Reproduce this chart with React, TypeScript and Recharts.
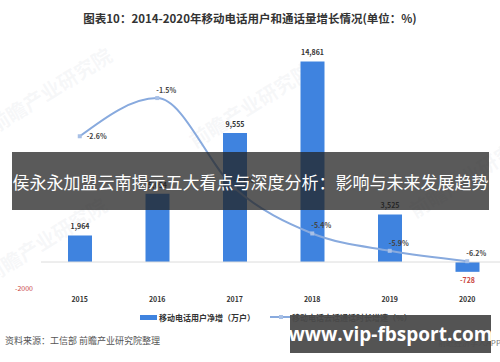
import React from 'react';
import { ComposedChart, Bar, Line, XAxis, YAxis, ReferenceLine, LabelList } from 'recharts';

const categories = ['2015', '2016', '2017', '2018', '2019', '2020'];
const netAdds = [1964, 5054, 9555, 14861, 3525, -728];
const growth = [-2.6, -1.5, -4.1, -5.4, -5.9, -6.2];
const leftTicks = [-2000];

const data = categories.map((year, i) => ({ year, net: netAdds[i], growth: growth[i] }));

const FONT = '"Noto Sans CJK SC", "Noto Sans", sans-serif';
const BAR = '#3f83df';
const LINE = '#88aade';

const BarLabel = (props: any) => {
  const { x, y, width, height, value } = props;
  const cx = x + width / 2;
  const neg = value < 0;
  const top = Math.min(y, y + height);
  const bottom = Math.max(y, y + height);
  const ty = neg ? bottom + 11 : top - 6;
  return (
    <text x={cx} y={ty} textAnchor="middle" fontSize={7} fontWeight="bold" fill={neg ? '#c9463d' : '#333'} fontFamily={FONT}>
      {value.toLocaleString('en-US')}
    </text>
  );
};

const LineLabel = (props: any) => {
  const { x, y, value, index } = props;
  const first = index === 0;
  const tx = first ? x + 7 : x + 9;
  const ty = first ? y + 2.5 : y - 5;
  return (
    <text x={tx} y={ty} textAnchor={first ? 'start' : 'middle'} fontSize={7} fontWeight="bold" fill="#444" fontFamily={FONT}>
      {value.toFixed(1)}%
    </text>
  );
};

const SquareDot = (props: any) => {
  const { cx, cy } = props;
  return <rect x={cx - 2} y={cy - 2} width={4} height={4} fill="#a8c0e6" />;
};

const Watermark = ({ left, top }: { left: number; top: number }) => (
  <div
    style={{
      position: 'absolute',
      left,
      top,
      transform: 'rotate(-32deg)',
      fontSize: 20,
      fontWeight: 'bold',
      color: 'rgba(200,205,215,0.16)',
      fontFamily: FONT,
      whiteSpace: 'nowrap',
      pointerEvents: 'none',
    }}
  >
    前瞻产业研究院
  </div>
);

export default function App() {
  return (
    <div
      style={{
        position: 'fixed',
        left: 0,
        top: 0,
        width: 500,
        height: 362,
        overflow: 'hidden',
        background: '#fff',
        fontFamily: FONT,
      }}
    >
      <div
        style={{
          position: 'absolute',
          top: 8,
          left: 0,
          width: 500,
          textAlign: 'center',
          fontSize: 11.5,
          fontWeight: 'bold',
          color: '#333',
          lineHeight: '20px',
        }}
      >
        图表10：2014-2020年移动电话用户和通话量增长情况(单位：%)
      </div>
      <Watermark left={-20} top={75} />
      <Watermark left={180} top={90} />
      <Watermark left={-25} top={225} />
      <Watermark left={400} top={160} />
      <div style={{ position: 'absolute', left: 0, top: 0 }}>
        <ComposedChart width={520} height={362} data={data} margin={{ top: 46, right: 14, bottom: 59, left: 0 }}>
          <XAxis
            dataKey="year"
            axisLine={false}
            tickLine={false}
            height={14}
            tick={{ fontSize: 7, fontWeight: 'bold', fill: '#333', fontFamily: FONT }}
          />
          <YAxis
            yAxisId="left"
            domain={[-2000, 16000]}
            allowDataOverflow
            ticks={leftTicks}
            axisLine={false}
            tickLine={false}
            width={41}
            tick={{ fontSize: 7, fill: '#c9463d', fontFamily: FONT }}
          />
          <YAxis yAxisId="right" orientation="right" domain={[-7, 0]} allowDataOverflow hide />
          <ReferenceLine yAxisId="left" y={0} stroke="#dcdcdc" strokeWidth={1} />
          <Bar yAxisId="left" dataKey="net" fill={BAR} barSize={24} isAnimationActive={false}>
            <LabelList dataKey="net" content={BarLabel} />
          </Bar>
          <Line
            yAxisId="right"
            type="monotone"
            dataKey="growth"
            stroke={LINE}
            strokeWidth={2}
            dot={<SquareDot />}
            isAnimationActive={false}
          >
            <LabelList dataKey="growth" content={LineLabel} />
          </Line>
        </ComposedChart>
      </div>
      <div style={{ position: 'absolute', left: 140, top: 310, height: 14, display: 'flex', alignItems: 'center', fontSize: 8, fontWeight: 'bold', color: '#333' }}>
        <div style={{ width: 17, height: 5, background: BAR, marginRight: 2 }} />
        <span>移动电话用户净增（万户）</span>
      </div>
      <div style={{ position: 'absolute', left: 270, top: 310, height: 14, display: 'flex', alignItems: 'center', fontSize: 8, fontWeight: 'bold', color: '#333' }}>
        <svg width={21} height={8} style={{ marginRight: 1 }}>
          <line x1={0} y1={4} x2={21} y2={4} stroke={LINE} strokeWidth={2} />
          <rect x={9} y={2} width={4} height={4} fill="#a8c0e6" />
        </svg>
        <span>移动电话去话通话时长增速（%）</span>
      </div>
      <div style={{ position: 'absolute', left: 5, top: 334, fontSize: 9, color: '#555', whiteSpace: 'nowrap' }}>
        资料来源：工信部 前瞻产业研究院整理
      </div>
      <div style={{ position: 'absolute', right: -1, top: 337, fontSize: 8, color: '#777', whiteSpace: 'nowrap' }}>
        前瞻经济学人APP
      </div>
      <div
        style={{
          position: 'absolute',
          left: 12,
          top: 152,
          width: 477,
          height: 58,
          background: 'rgba(35,35,35,0.75)',
          color: '#fff',
          fontSize: 17,
          display: 'flex',
          alignItems: 'center',
          justifyContent: 'center',
          whiteSpace: 'nowrap',
        }}
      >
        侯永永加盟云南揭示五大看点与深度分析：影响与未来发展趋势
      </div>
      <div
        style={{
          position: 'absolute',
          left: 290,
          top: 315,
          width: 201,
          height: 38,
          background: 'rgba(75,75,75,0.95)',
          color: '#fff',
          fontSize: 19,
          fontWeight: 'bold',
          fontFamily: '"Open Sans", "Noto Sans", sans-serif',
          display: 'flex',
          alignItems: 'center',
          justifyContent: 'center',
          whiteSpace: 'nowrap',
        }}
      >
        www.vip-fbsport.com
      </div>
    </div>
  );
}
